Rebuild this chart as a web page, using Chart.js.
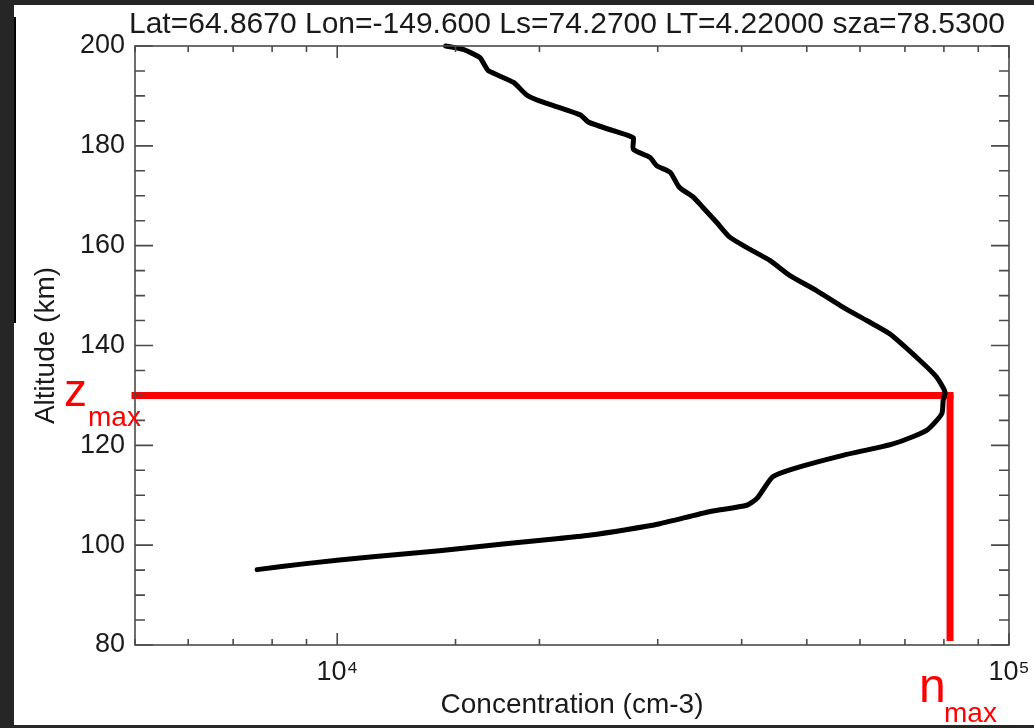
<!DOCTYPE html>
<html lang="en">
    <head>
        <meta charset="UTF-8" />
        <title>Altitude profile</title>
        <script src="https://cdn.jsdelivr.net/npm/chart.js"></script>
        <style>
            body { margin: 0; background: #262626; }
            canvas { display: block; }
        </style>
    </head>
    <body>
        <canvas id="perfil" width="1034" height="728"></canvas>

        <script>
            // Profile (bottom to top)
            const altitude = [
                95.1, 96.3, 97.7, 98.9, 100.3, 101.3, 102.0, 103.1, 104.3, 106.7,
                108.0, 109.3, 111.0, 113.7, 115.3, 118.0, 120.3, 123.0, 126.3, 129.0,
                130.7, 133.7, 137.0, 142.3, 145.0, 147.7, 151.0, 154.0, 157.0, 159.3,
                161.7, 164.7, 167.7, 169.7, 171.7, 174.7, 176.0, 177.7, 179.3, 181.6,
                182.0, 184.7, 186.2, 189.0, 190.3, 192.7, 195.0, 196.0, 197.7, 199.3,
                200.0
            ];
            const concentration = [
                7600, 8980, 11300, 14200, 17800, 21200, 23700, 26900, 30200, 35800,
                40700, 42100, 43000, 44500, 47700, 56600, 67200, 75400, 79400, 79800,
                80300, 78000, 73700, 66500, 61400, 56600, 51700, 47200, 44100, 41100,
                38400, 36700, 35000, 33900, 32300, 31300, 29900, 29200, 27600, 27600,
                27200, 23700, 23000, 20000, 19100, 18300, 16800, 16600, 16300, 15400,
                14500
            ];

            // Peak markers
            const zMax = 130;
            const nMax = 81700;
            const xMin = 5000, xMax = 100000;
            const yMin = 80, yMax = 200;

            const titulo = "Lat=64.8670 Lon=-149.600 Ls=74.2700 LT=4.22000 sza=78.5300";
            const fuente = "'Liberation Sans', Arial, Helvetica, sans-serif";

            const perfil = altitude.map((a, i) => ({ x: concentration[i], y: a }));

            function esPotencia(v) {
                const l = Math.log10(v);
                return Math.abs(l - Math.round(l)) < 1e-9;
            }

            // Frame, box and inward ticks like the IDL plot
            const marco = {
                id: "marco",
                beforeDraw(chart) {
                    const ctx = chart.ctx;
                    ctx.save();
                    ctx.fillStyle = "#262626";
                    ctx.fillRect(0, 0, chart.width, chart.height);
                    ctx.fillStyle = "#ffffff";
                    ctx.fillRect(14, 5, chart.width - 14, 720);
                    ctx.fillStyle = "#000000";
                    ctx.fillRect(14, 17, 2, 306);
                    ctx.restore();
                },
                afterDatasetsDraw(chart) {
                    const { ctx, chartArea: a, scales } = chart;
                    ctx.save();
                    ctx.strokeStyle = "#4a4a4a";
                    ctx.lineWidth = 1.6;
                    ctx.strokeRect(a.left, a.top, a.right - a.left, a.bottom - a.top);
                    ctx.beginPath();
                    scales.y.ticks.forEach((t) => {
                        const py = scales.y.getPixelForValue(t.value);
                        const len = t.value % 20 === 0 ? 18 : 10;
                        ctx.moveTo(a.left, py); ctx.lineTo(a.left + len, py);
                        ctx.moveTo(a.right, py); ctx.lineTo(a.right - len, py);
                    });
                    scales.x.ticks.forEach((t) => {
                        const px = scales.x.getPixelForValue(t.value);
                        const len = esPotencia(t.value) ? 12 : 6;
                        ctx.moveTo(px, a.bottom); ctx.lineTo(px, a.bottom - len);
                        ctx.moveTo(px, a.top); ctx.lineTo(px, a.top + len);
                    });
                    ctx.stroke();
                    ctx.restore();
                },
                afterDraw(chart) {
                    const { ctx, chartArea: a, scales } = chart;
                    ctx.save();
                    // title, centred over the plot box
                    ctx.fillStyle = "#1a1a1a";
                    ctx.font = "30px " + fuente;
                    ctx.textAlign = "center";
                    ctx.textBaseline = "alphabetic";
                    ctx.fillText(titulo, (a.left + a.right) / 2 - 5, 33);

                    ctx.fillStyle = "#ff0000";
                    ctx.textAlign = "left";
                    const yz = scales.y.getPixelForValue(zMax);
                    ctx.font = "46px " + fuente;
                    ctx.fillText("z", a.left - 71, yz + 11);
                    ctx.font = "28px " + fuente;
                    ctx.fillText("max", a.left - 47, yz + 31);
                    const xn = scales.x.getPixelForValue(nMax);
                    ctx.font = "48px " + fuente;
                    ctx.fillText("n", xn - 31, a.bottom + 57);
                    ctx.font = "28px " + fuente;
                    ctx.fillText("max", xn - 6, a.bottom + 77);
                    ctx.restore();
                }
            };

            const ctx = document.getElementById("perfil").getContext("2d");
            const chart = new Chart(ctx, {
                type: "scatter",
                data: {
                    datasets: [
                        {
                            label: "perfil",
                            data: perfil,
                            showLine: true,
                            borderColor: "#000000",
                            borderWidth: 5,
                            pointRadius: 0,
                            tension: 0.2,
                            borderJoinStyle: "round",
                            borderCapStyle: "round",
                            clip: false,
                        },
                        {
                            label: "zmax",
                            data: [{ x: xMin, y: zMax }, { x: nMax, y: zMax }],
                            showLine: true,
                            borderColor: "#ff0000",
                            borderWidth: 7,
                            pointRadius: 0,
                            borderCapStyle: "square",
                            clip: false,
                        },
                        {
                            label: "nmax",
                            data: [{ x: nMax, y: zMax }, { x: nMax, y: 80.8 }],
                            showLine: true,
                            borderColor: "#ff0000",
                            borderWidth: 7,
                            pointRadius: 0,
                            clip: false,
                        },
                    ],
                },
                options: {
                    responsive: false,
                    animation: false,
                    layout: { padding: { top: 46, right: 25, bottom: 0, left: 0 } },
                    scales: {
                        x: {
                            type: "logarithmic",
                            min: xMin,
                            max: xMax,
                            grid: { display: false, drawTicks: false },
                            border: { display: false },
                            ticks: {
                                autoSkip: false,
                                maxRotation: 0,
                                padding: 11,
                                color: "#1a1a1a",
                                font: { family: fuente, size: 27 },
                                callback: (v) => (v === 10000 ? "10⁴" : v === 100000 ? "10⁵" : ""),
                            },
                            title: {
                                display: true,
                                text: "Concentration (cm-3)",
                                color: "#1a1a1a",
                                font: { family: fuente, size: 28 },
                                padding: { top: 0, bottom: 6 },
                            },
                            afterFit(s) {
                                s.height = 83;
                                s.paddingLeft = 0;
                                s.paddingRight = 0;
                            },
                        },
                        y: {
                            min: yMin,
                            max: yMax,
                            grid: { display: false, drawTicks: false },
                            border: { display: false },
                            ticks: {
                                stepSize: 5,
                                autoSkip: false,
                                padding: 10,
                                color: "#1a1a1a",
                                font: { family: fuente, size: 27 },
                                callback: (v) => (v % 20 === 0 ? String(v) : ""),
                            },
                            title: {
                                display: true,
                                text: "Altitude (km)",
                                color: "#1a1a1a",
                                font: { family: fuente, size: 28 },
                                padding: { top: 29, bottom: 0 },
                            },
                            afterFit(s) {
                                s.width = 135;
                                s.paddingTop = 0;
                                s.paddingBottom = 0;
                            },
                        },
                    },
                    plugins: {
                        legend: { display: false },
                        tooltip: { enabled: false },
                        title: { display: false },
                    },
                },
                plugins: [marco],
            });
        </script>
    </body>
</html>
